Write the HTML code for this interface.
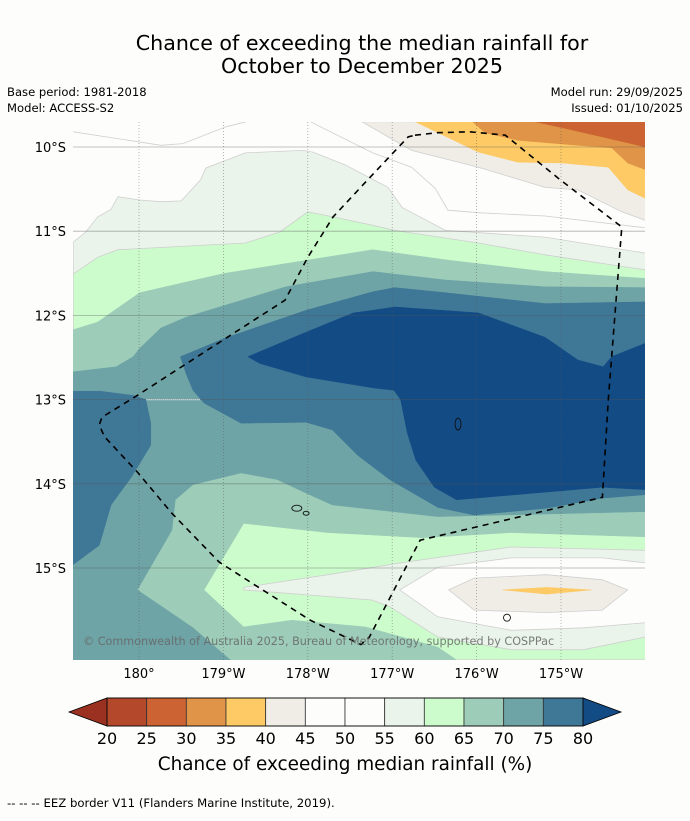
<!DOCTYPE html>
<html><head><meta charset="utf-8">
<style>
html,body{margin:0;padding:0;background:#fdfefb;}
body{width:690px;height:816px;overflow:hidden;font-family:"Liberation Sans","DejaVu Sans",sans-serif;}
svg text{font-family:"DejaVu Sans","Liberation Sans",sans-serif;}
</style></head>
<body>
<svg id="chart" width="690" height="816" viewBox="0 0 690 816" xmlns="http://www.w3.org/2000/svg">
<rect width="690" height="816" fill="#fdfefb"/>
<text x="362" y="50" font-size="20.6" text-anchor="middle" fill="#000">Chance of exceeding the median rainfall for</text>
<text x="362" y="73" font-size="20.6" text-anchor="middle" fill="#000">October to December 2025</text>
<text x="7" y="96" font-size="11.6">Base period: 1981-2018</text>
<text x="7" y="112" font-size="11.6">Model: ACCESS-S2</text>
<text x="683" y="96" font-size="11.6" text-anchor="end">Model run: 29/09/2025</text>
<text x="683" y="112" font-size="11.6" text-anchor="end">Issued: 01/10/2025</text>
<defs><clipPath id="mapclip"><rect x="73" y="122" width="572" height="538"/></clipPath></defs>
<g id="map" clip-path="url(#mapclip)"></g>
<g id="axes"></g>
<g id="cbar"></g>
<text x="345" y="770" font-size="18.4" text-anchor="middle">Chance of exceeding median rainfall (%)</text>
<text x="7" y="807" font-size="11.7">--  --  -- EEZ border V11 (Flanders Marine Institute, 2019).</text>
</svg>
<script>
// colorbar data
const levels = [20,25,30,35,40,45,50,55,60,65,70,75,80];
const binColors = ["#b4482a","#cb6432","#e09447","#fdca66","#f0ede7","#fdfefb","#fdfefb","#eaf4ea","#ccfccc","#9dcdb8","#6fa4a7","#3f7796","#134b85"];
const underColor = "#9b3221";
const overColor = "#134b85";
// axis ticks
const lonTicks = [180,181,182,183,184,185];
const lonLabels = ["180°","179°W","178°W","177°W","176°W","175°W"];
const latTicks = [10,11,12,13,14,15];
const latLabels = ["10°S","11°S","12°S","13°S","14°S","15°S"];
// contour regions [lon (deg east, 181 = 179W), lat (deg S)]
const region55 = [[179.22,11.13],[179.37,11.01],[179.51,10.83],[179.67,10.74],[179.75,10.59],[180.01,10.63],[180.26,10.65],[180.50,10.64],[180.73,10.39],[180.79,10.25],[181.26,10.07],[181.94,10.04],[182.06,10.06],[182.44,10.21],[182.95,10.48],[183.12,10.72],[183.63,10.99],[184.81,11.07],[186.00,11.26],[186.00,16.09],[179.22,16.09]];
const region60 = [[179.22,11.51],[179.51,11.31],[179.75,11.22],[181.26,11.14],[181.67,11.01],[182.00,10.77],[182.30,10.83],[182.77,10.93],[183.03,10.99],[184.02,11.14],[184.81,11.28],[186.00,11.46],[186.00,16.09],[179.22,16.09]];
const region65 = [[179.22,12.17],[179.51,12.08],[180.01,11.73],[180.49,11.62],[181.02,11.50],[182.77,11.22],[183.63,11.34],[184.81,11.48],[186.00,11.56],[186.00,14.63],[184.41,14.58],[183.36,14.64],[182.24,14.58],[181.24,14.47],[180.77,15.26],[181.24,15.70],[181.81,15.62],[182.68,15.70],[183.54,15.94],[183.76,16.09],[179.22,16.09]];
const region70 = [[179.22,12.67],[179.73,12.61],[179.93,12.49],[180.01,12.39],[180.26,12.15],[180.56,12.02],[181.02,11.88],[181.74,11.66],[182.77,11.48],[183.63,11.58],[184.81,11.66],[186.00,11.67],[186.00,14.33],[183.54,14.39],[182.29,14.25],[181.98,14.11],[181.64,13.95],[181.21,13.87],[180.64,14.01],[180.43,14.19],[180.39,14.55],[179.98,15.26],[180.64,15.71],[181.08,16.09],[179.22,16.09]];
const region75a = [[180.49,12.49],[181.02,12.27],[181.98,11.94],[182.77,11.72],[183.03,11.67],[183.63,11.73],[184.81,11.86],[186.00,11.84],[186.00,14.13],[185.49,14.17],[184.83,14.29],[183.97,14.37],[183.54,14.28],[182.97,13.95],[182.59,13.66],[182.29,13.36],[181.98,13.27],[181.21,13.28],[180.77,13.04],[180.64,12.89],[180.56,12.70]];
const region75b = [[179.22,12.90],[179.54,12.90],[179.93,12.95],[180.08,13.00],[180.14,13.28],[180.14,13.54],[179.91,13.92],[179.67,14.25],[179.53,14.73],[179.22,14.96]];
const region80 = [[181.29,12.49],[181.98,12.20],[182.54,11.97],[182.77,11.94],[183.03,11.90],[184.02,11.97],[184.81,12.26],[185.20,12.53],[185.50,12.61],[185.60,12.49],[186.00,12.33],[186.00,14.07],[185.49,14.04],[183.76,14.19],[183.50,14.04],[183.28,13.72],[183.18,13.40],[183.10,13.00],[183.02,12.89],[182.77,12.86],[181.98,12.73],[181.43,12.57]];
const pocket55 = [[181.24,15.23],[182.24,15.08],[183.10,14.94],[184.41,14.75],[186.00,14.79],[186.00,15.82],[185.27,15.97],[184.41,15.97],[183.54,15.82],[182.97,15.46],[182.76,15.38],[181.24,15.26]];
const pocket50 = [[183.09,15.26],[183.54,14.99],[184.41,14.88],[185.49,14.88],[186.00,14.94],[186.00,15.65],[185.27,15.71],[184.41,15.74],[183.54,15.58]];
const pocket45 = [[183.67,15.26],[183.97,15.12],[184.83,15.08],[185.49,15.14],[185.79,15.26],[185.49,15.50],[184.83,15.53],[183.97,15.50]];
const pocket40 = [[184.31,15.26],[184.83,15.23],[185.36,15.26],[184.83,15.31]];
const low45 = [[182.64,9.70],[183.23,10.04],[184.02,10.24],[184.81,10.48],[185.20,10.51],[185.72,10.77],[186.00,10.87],[186.00,9.70]];
const low40 = [[183.27,9.70],[184.02,10.06],[184.49,10.18],[185.01,10.19],[185.56,10.24],[185.79,10.51],[186.00,10.61],[186.00,9.70]];
const low35 = [[183.95,9.70],[184.10,9.83],[184.49,9.92],[185.20,9.98],[185.60,10.01],[185.79,10.19],[186.00,10.27],[186.00,9.70]];
const low30 = [[184.69,9.70],[185.01,9.77],[185.79,9.95],[186.00,10.00],[186.00,9.70]];
const line50a = [[179.22,9.82],[180.26,9.98],[180.52,9.96],[181.03,9.76],[181.27,9.70]];
const line50b = [[182.03,9.70],[182.77,10.07],[183.23,10.24],[183.51,10.49],[183.66,10.75],[184.02,10.78],[184.81,10.82],[186.00,10.96]];
const eez = [[183.27,9.86],[183.54,9.83],[183.92,9.82],[184.34,9.86],[184.99,10.39],[185.72,10.95],[185.56,13.00],[185.49,14.16],[183.33,14.67],[182.73,15.82],[182.63,15.91],[182.03,15.62],[181.37,15.20],[180.95,14.93],[180.39,14.35],[179.98,13.86],[179.59,13.44],[179.53,13.30],[179.56,13.21],[179.98,12.95],[181.00,12.29],[181.73,11.82],[182.00,11.31],[182.30,10.83],[182.71,10.39],[183.19,9.88],[183.27,9.86]];
const islands = [[183.78,13.29,3,6],[181.87,14.29,5,3],[181.98,14.35,3,2],[184.36,15.59,3.5,3.5]];

const NS = "http://www.w3.org/2000/svg";
function X(lon){ return 139 + (lon-180)*84.4; }
function Y(lat){ return 147 + (lat-10)*84.2; }
function mk(tag, attrs, parent){ const e=document.createElementNS(NS,tag); for(const k in attrs) e.setAttribute(k,attrs[k]); parent.appendChild(e); return e; }
function pts(arr){ return arr.map(p=>X(p[0]).toFixed(1)+","+Y(p[1]).toFixed(1)).join(" "); }
const map = document.getElementById("map");
const bg = mk("rect",{x:73,y:122,width:572,height:538,fill:"#fdfefb"},map);


const layers = [
 ["region-55-60",region55,binColors[7],true],
 ["region-60-65",region60,binColors[8],true],
 ["region-65-70",region65,binColors[9],false],
 ["region-70-75",region70,binColors[10],false],
 ["region-75-80",region75a,binColors[11],false],
 ["region-75-80-west",region75b,binColors[11],false],
 ["region-above-80",region80,binColors[12],false],
 ["pocket-55-60",pocket55,binColors[7],true],
 ["pocket-45-55",pocket50,binColors[6],true],
 ["pocket-40-45",pocket45,binColors[4],true],
 ["pocket-35-40",pocket40,binColors[3],false],
 ["low-40-45",low45,binColors[4],true],
 ["low-35-40",low40,binColors[3],false],
 ["low-30-35",low35,binColors[2],false],
 ["low-25-30",low30,binColors[1],false]
];
layers.forEach(L=>{
  const p = mk("polygon",{points:pts(L[1]),fill:L[2],stroke:L[3]?"#cfcfcf":L[2],"stroke-width":L[3]?0.8:0.5},map);
  
  
});
[line50a,line50b].forEach((l,i)=>{
  const p = mk("polyline",{points:pts(l),fill:"none",stroke:"#cfcfcf","stroke-width":0.8},map);
  
  
});
latTicks.forEach(t=>{
  const l = mk("line",{x1:73,x2:645,y1:Y(t),y2:Y(t),stroke:"#555","stroke-width":0.8,"stroke-opacity":0.45},map);
  
  
});
lonTicks.forEach(t=>{
  const l = mk("line",{x1:X(t),x2:X(t),y1:122,y2:660,stroke:"#555","stroke-width":0.8,"stroke-opacity":0.55,"stroke-dasharray":"1,2"},map);
  
  
});
const wl = mk("line",{x1:X(180.09),x2:X(180.72),y1:Y(13.0),y2:Y(13.0),stroke:"#fff","stroke-width":1.2,"stroke-dasharray":"1,1"},map);


islands.forEach(s=>{
  const e = mk("ellipse",{cx:X(s[0]),cy:Y(s[1]),rx:s[2],ry:s[3],fill:"none",stroke:"#111","stroke-width":0.9},map);
  
  
});
const ez = mk("polyline",{points:pts(eez),fill:"none",stroke:"#000","stroke-width":1.6,"stroke-dasharray":"6,5"},map);


const cp = mk("text",{x:83,y:645,"font-size":11.2,fill:"#666","fill-opacity":0.85},map);
cp.textContent = "© Commonwealth of Australia 2025, Bureau of Meteorology, supported by COSPPac";


const axes = document.getElementById("axes");
latTicks.forEach((t,i)=>{
  const tx = mk("text",{x:66,y:Y(t)+5,"font-size":13,"text-anchor":"end"},axes);
  tx.textContent = latLabels[i];
  
  
});
lonTicks.forEach((t,i)=>{
  const tx = mk("text",{x:X(t),y:678,"font-size":13,"text-anchor":"middle"},axes);
  tx.textContent = lonLabels[i];
  
  
});
const cb = document.getElementById("cbar");
const cx0=107, cx1=583, cy0=698, cy1=726;
function CX(v){ return cx0 + (v-levels[0])/(levels[levels.length-1]-levels[0])*(cx1-cx0); }
const tl = mk("polygon",{points:`${cx0},${cy0} ${cx0},${cy1} 69,${(cy0+cy1)/2}`,fill:underColor,stroke:"#000","stroke-width":0.8},cb);


const tr = mk("polygon",{points:`${cx1},${cy0} ${cx1},${cy1} 621,${(cy0+cy1)/2}`,fill:overColor,stroke:"#000","stroke-width":0.8},cb);


for(let i=0;i<levels.length-1;i++){
  const r = mk("rect",{x:CX(levels[i]),y:cy0,width:CX(levels[i+1])-CX(levels[i]),height:cy1-cy0,fill:binColors[i],stroke:"#333","stroke-width":0.8},cb);
  
  
}
const fr = mk("rect",{x:cx0,y:cy0,width:cx1-cx0,height:cy1-cy0,fill:"none",stroke:"#000","stroke-width":0.8},cb);


levels.forEach(v=>{
  const t = mk("text",{x:CX(v),y:744,"font-size":16,"text-anchor":"middle"},cb);
  t.textContent = v;
  
  
});
</script>
</body></html>
